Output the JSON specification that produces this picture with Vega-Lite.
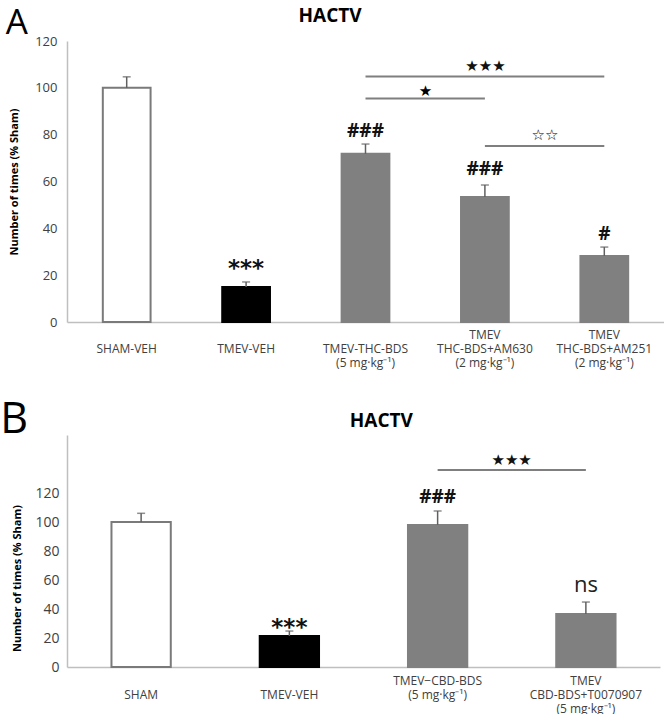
{
  "$schema": "https://vega.github.io/schema/vega-lite/v6.json",
  "padding": {"left": 0, "top": 5, "right": 0, "bottom": 0},
  "background": "white",
  "columns": 1,
  "align": "none",
  "spacing": 30,
  "resolve": {"scale": {"fill": "independent", "stroke": "independent"}},
  "config": {
    "view": {"stroke": null},
    "text": {"font": "Open Sans"},
    "axis": {"labelFont": "Open Sans", "titleFont": "Open Sans", "labelOverlap": false}
  },
  "datasets": {
    "barsA": [
      {"group": "SHAM-VEH", "mean": 100, "upper": 104.7},
      {"group": "TMEV-VEH", "mean": 15, "upper": 17.1},
      {"group": "TMEV-THC-BDS\n(5 mg·kg⁻¹)", "mean": 71.8, "upper": 76},
      {"group": "TMEV\nTHC-BDS+AM630\n(2 mg·kg⁻¹)", "mean": 53.4, "upper": 58.5},
      {"group": "TMEV\nTHC-BDS+AM251\n(2 mg·kg⁻¹)", "mean": 28.2, "upper": 32}
    ],
    "hashA": [
      {"group": "TMEV-THC-BDS\n(5 mg·kg⁻¹)", "y": 79, "text": "###"},
      {"group": "TMEV\nTHC-BDS+AM630\n(2 mg·kg⁻¹)", "y": 62.8, "text": "###"},
      {"group": "TMEV\nTHC-BDS+AM251\n(2 mg·kg⁻¹)", "y": 35, "text": "#"}
    ],
    "astA": [
      {"group": "TMEV-VEH", "y": 19.8, "text": "***"}
    ],
    "sigA": [
      {"from": "TMEV-THC-BDS\n(5 mg·kg⁻¹)", "to": "TMEV\nTHC-BDS+AM251\n(2 mg·kg⁻¹)", "span": 2, "line": 104.8, "labelY": 107.3, "text": "★★★"},
      {"from": "TMEV-THC-BDS\n(5 mg·kg⁻¹)", "to": "TMEV\nTHC-BDS+AM630\n(2 mg·kg⁻¹)", "span": 1, "line": 95.4, "labelY": 96.6, "text": "★"},
      {"from": "TMEV\nTHC-BDS+AM630\n(2 mg·kg⁻¹)", "to": "TMEV\nTHC-BDS+AM251\n(2 mg·kg⁻¹)", "span": 1, "line": 75.2, "labelY": 77.8, "text": "☆☆"}
    ],
    "barsB": [
      {"group": "SHAM", "mean": 100, "upper": 106},
      {"group": "TMEV-VEH", "mean": 21.4, "upper": 24.8},
      {"group": "TMEV−CBD-BDS\n(5 mg·kg⁻¹)", "mean": 98, "upper": 107.6},
      {"group": "TMEV\nCBD-BDS+T0070907\n(5 mg·kg⁻¹)", "mean": 36.5, "upper": 44.8}
    ],
    "hashB": [
      {"group": "TMEV−CBD-BDS\n(5 mg·kg⁻¹)", "y": 113.1, "text": "###"}
    ],
    "astB": [
      {"group": "TMEV-VEH", "y": 22.3, "text": "***"}
    ],
    "nsB": [
      {"group": "TMEV\nCBD-BDS+T0070907\n(5 mg·kg⁻¹)", "y": 51.7, "text": "ns"}
    ],
    "sigB": [
      {"from": "TMEV−CBD-BDS\n(5 mg·kg⁻¹)", "to": "TMEV\nCBD-BDS+T0070907\n(5 mg·kg⁻¹)", "span": 1, "line": 135.9, "labelY": 139.3, "text": "★★★"}
    ]
  },
  "concat": [
    {
      "width": 597,
      "height": 281,
      "layer": [
        {
          "data": {"name": "barsA"},
          "mark": {"type": "bar", "strokeWidth": 2},
          "encoding": {
            "x": {"field": "group", "type": "nominal", "sort": null,
              "scale": {"domain": ["SHAM-VEH", "TMEV-VEH", "TMEV-THC-BDS\n(5 mg·kg⁻¹)", "TMEV\nTHC-BDS+AM630\n(2 mg·kg⁻¹)", "TMEV\nTHC-BDS+AM251\n(2 mg·kg⁻¹)"], "paddingInner": 0.6, "paddingOuter": 0.3},
              "axis": {"title": null, "labelAngle": 0, "ticks": false, "labelExpr": "length(split(datum.label, '\\n')) == 3 ? split(datum.label, '\\n') : (length(split(datum.label, '\\n')) == 2 ? ['\u200b', split(datum.label, '\\n')[0], split(datum.label, '\\n')[1]] : ['\u200b', datum.label])", "labelBaseline": "top", "labelPadding": 7, "labelLineHeight": 14, "labelFontSize": 12, "labelColor": "#404040", "domainColor": "#bfbfbf", "domainWidth": 1.5, "labelLimit": 0, "labelOverlap": false}},
            "y": {"field": "mean", "type": "quantitative", "scale": {"domain": [0, 120], "nice": false},
              "axis": {"values": [0, 20, 40, 60, 80, 100, 120], "tickCount": 20, "ticks": false, "grid": false, "domainColor": "#bfbfbf", "domainWidth": 1.5, "labelFontSize": 13, "labelColor": "#404040", "labelPadding": 10, "labelOverlap": false, "title": "Number of times (% Sham)", "titleFontSize": 11, "titleFontWeight": "bold", "titleColor": "#000000", "titlePadding": 15}},
            "fill": {"field": "group", "type": "nominal", "scale": {"domain": ["SHAM-VEH", "TMEV-VEH", "TMEV-THC-BDS\n(5 mg·kg⁻¹)", "TMEV\nTHC-BDS+AM630\n(2 mg·kg⁻¹)", "TMEV\nTHC-BDS+AM251\n(2 mg·kg⁻¹)"], "range": ["#ffffff", "#000000", "#808080", "#808080", "#808080"]}, "legend": null},
            "stroke": {"field": "group", "type": "nominal", "scale": {"domain": ["SHAM-VEH", "TMEV-VEH", "TMEV-THC-BDS\n(5 mg·kg⁻¹)", "TMEV\nTHC-BDS+AM630\n(2 mg·kg⁻¹)", "TMEV\nTHC-BDS+AM251\n(2 mg·kg⁻¹)"], "range": ["#7a7a7a", "#000000", "#808080", "#808080", "#808080"]}, "legend": null}
          }
        },
        {
          "data": {"name": "barsA"},
          "mark": {"type": "rule", "color": "#606060", "strokeWidth": 1.5},
          "encoding": {
            "x": {"field": "group", "type": "nominal", "sort": null},
            "y": {"field": "mean", "type": "quantitative"},
            "y2": {"field": "upper"}
          }
        },
        {
          "data": {"name": "barsA"},
          "mark": {"type": "tick", "color": "#606060", "thickness": 1.5, "size": 8},
          "encoding": {
            "x": {"field": "group", "type": "nominal", "sort": null},
            "y": {"field": "upper", "type": "quantitative"}
          }
        },
        {
          "data": {"name": "hashA"},
          "mark": {"type": "text", "fontSize": 19, "fontWeight": "bold", "baseline": "alphabetic", "color": "#111111"},
          "encoding": {
            "x": {"field": "group", "type": "nominal", "sort": null},
            "y": {"field": "y", "type": "quantitative"},
            "text": {"field": "text"}
          }
        },
        {
          "data": {"name": "astA"},
          "mark": {"type": "text", "font": "DejaVu Sans", "fontSize": 23, "fontWeight": "bold", "baseline": "alphabetic", "color": "#111111"},
          "encoding": {
            "x": {"field": "group", "type": "nominal", "sort": null},
            "y": {"field": "y", "type": "quantitative"},
            "text": {"field": "text"}
          }
        },
        {
          "data": {"name": "sigA"},
          "mark": {"type": "rule", "color": "#7f7f7f", "strokeWidth": 2},
          "encoding": {
            "x": {"field": "from", "type": "nominal"},
            "x2": {"field": "to"},
            "y": {"field": "line", "type": "quantitative"}
          }
        },
        {
          "data": {"name": "sigA"},
          "transform": [{"filter": "datum.span == 1"}],
          "mark": {"type": "text", "font": "DejaVu Sans", "fontSize": 15, "fontWeight": "bold", "baseline": "alphabetic", "color": "#000000", "dx": 60},
          "encoding": {
            "x": {"field": "from", "type": "nominal"},
            "y": {"field": "labelY", "type": "quantitative"},
            "text": {"field": "text"}
          }
        },
        {
          "data": {"name": "sigA"},
          "transform": [{"filter": "datum.span == 2"}],
          "mark": {"type": "text", "font": "DejaVu Sans", "fontSize": 15, "baseline": "alphabetic", "color": "#111111", "dx": 120},
          "encoding": {
            "x": {"field": "from", "type": "nominal"},
            "y": {"field": "labelY", "type": "quantitative"},
            "text": {"field": "text"}
          }
        },
        {
          "data": {"values": [{"label": "A"}]},
          "mark": {"type": "text", "fontSize": 35, "baseline": "alphabetic", "color": "#000000", "dx": -110},
          "encoding": {
            "x": {"datum": "SHAM-VEH", "type": "nominal"},
            "y": {"datum": 123, "type": "quantitative"},
            "text": {"field": "label"}
          }
        },
        {
          "data": {"values": [{"label": "HACTV"}]},
          "mark": {"type": "text", "fontSize": 19, "fontWeight": "bold", "baseline": "alphabetic", "color": "#000000", "dx": 84},
          "encoding": {
            "x": {"datum": "TMEV-VEH", "type": "nominal"},
            "y": {"datum": 128.2, "type": "quantitative"},
            "text": {"field": "label"}
          }
        }
      ]
    },
    {
      "width": 593,
      "height": 232,
      "layer": [
        {
          "data": {"name": "barsB"},
          "mark": {"type": "bar", "strokeWidth": 2},
          "encoding": {
            "x": {"field": "group", "type": "nominal", "sort": null,
              "scale": {"domain": ["SHAM", "TMEV-VEH", "TMEV−CBD-BDS\n(5 mg·kg⁻¹)", "TMEV\nCBD-BDS+T0070907\n(5 mg·kg⁻¹)"], "paddingInner": 0.6, "paddingOuter": 0.3},
              "axis": {"title": null, "labelAngle": 0, "ticks": false, "labelExpr": "length(split(datum.label, '\\n')) == 1 ? ['\u200b', datum.label] : split(datum.label, '\\n')", "labelBaseline": "top", "labelPadding": 8, "labelLineHeight": 14, "labelFontSize": 12, "labelColor": "#404040", "domainColor": "#bfbfbf", "domainWidth": 1.5, "labelLimit": 0, "labelOverlap": false}},
            "y": {"field": "mean", "type": "quantitative", "scale": {"domain": [0, 160], "nice": false},
              "axis": {"values": [0, 20, 40, 60, 80, 100, 120], "tickCount": 20, "ticks": false, "grid": false, "domainColor": "#bfbfbf", "domainWidth": 1.5, "labelFontSize": 14, "labelColor": "#404040", "labelPadding": 8, "labelOverlap": false, "title": "Number of times (% Sham)", "titleFontSize": 11, "titleFontWeight": "bold", "titleColor": "#000000", "titlePadding": 12, "titleY": 143}},
            "fill": {"field": "group", "type": "nominal", "scale": {"domain": ["SHAM", "TMEV-VEH", "TMEV−CBD-BDS\n(5 mg·kg⁻¹)", "TMEV\nCBD-BDS+T0070907\n(5 mg·kg⁻¹)"], "range": ["#ffffff", "#000000", "#808080", "#808080"]}, "legend": null},
            "stroke": {"field": "group", "type": "nominal", "scale": {"domain": ["SHAM", "TMEV-VEH", "TMEV−CBD-BDS\n(5 mg·kg⁻¹)", "TMEV\nCBD-BDS+T0070907\n(5 mg·kg⁻¹)"], "range": ["#7a7a7a", "#000000", "#808080", "#808080"]}, "legend": null}
          }
        },
        {
          "data": {"name": "barsB"},
          "mark": {"type": "rule", "color": "#606060", "strokeWidth": 1.5},
          "encoding": {
            "x": {"field": "group", "type": "nominal", "sort": null},
            "y": {"field": "mean", "type": "quantitative"},
            "y2": {"field": "upper"}
          }
        },
        {
          "data": {"name": "barsB"},
          "mark": {"type": "tick", "color": "#606060", "thickness": 1.5, "size": 8},
          "encoding": {
            "x": {"field": "group", "type": "nominal", "sort": null},
            "y": {"field": "upper", "type": "quantitative"}
          }
        },
        {
          "data": {"name": "hashB"},
          "mark": {"type": "text", "fontSize": 19, "fontWeight": "bold", "baseline": "alphabetic", "color": "#111111"},
          "encoding": {
            "x": {"field": "group", "type": "nominal", "sort": null},
            "y": {"field": "y", "type": "quantitative"},
            "text": {"field": "text"}
          }
        },
        {
          "data": {"name": "astB"},
          "mark": {"type": "text", "font": "DejaVu Sans", "fontSize": 23, "fontWeight": "bold", "baseline": "alphabetic", "color": "#111111"},
          "encoding": {
            "x": {"field": "group", "type": "nominal", "sort": null},
            "y": {"field": "y", "type": "quantitative"},
            "text": {"field": "text"}
          }
        },
        {
          "data": {"name": "nsB"},
          "mark": {"type": "text", "fontSize": 22, "baseline": "alphabetic", "color": "#222222"},
          "encoding": {
            "x": {"field": "group", "type": "nominal", "sort": null},
            "y": {"field": "y", "type": "quantitative"},
            "text": {"field": "text"}
          }
        },
        {
          "data": {"name": "sigB"},
          "mark": {"type": "rule", "color": "#7f7f7f", "strokeWidth": 2},
          "encoding": {
            "x": {"field": "from", "type": "nominal"},
            "x2": {"field": "to"},
            "y": {"field": "line", "type": "quantitative"}
          }
        },
        {
          "data": {"name": "sigB"},
          "mark": {"type": "text", "font": "DejaVu Sans", "fontSize": 15, "baseline": "alphabetic", "color": "#111111", "dx": 74},
          "encoding": {
            "x": {"field": "from", "type": "nominal"},
            "y": {"field": "labelY", "type": "quantitative"},
            "text": {"field": "text"}
          }
        },
        {
          "data": {"values": [{"label": "B"}]},
          "mark": {"type": "text", "fontSize": 43, "baseline": "alphabetic", "color": "#000000", "dx": -127},
          "encoding": {
            "x": {"datum": "SHAM", "type": "nominal"},
            "y": {"datum": 161.4, "type": "quantitative"},
            "text": {"field": "label"}
          }
        },
        {
          "data": {"values": [{"label": "HACTV"}]},
          "mark": {"type": "text", "fontSize": 19, "fontWeight": "bold", "baseline": "alphabetic", "color": "#000000", "dx": 92},
          "encoding": {
            "x": {"datum": "TMEV-VEH", "type": "nominal"},
            "y": {"datum": 165.5, "type": "quantitative"},
            "text": {"field": "label"}
          }
        }
      ]
    }
  ]
}
